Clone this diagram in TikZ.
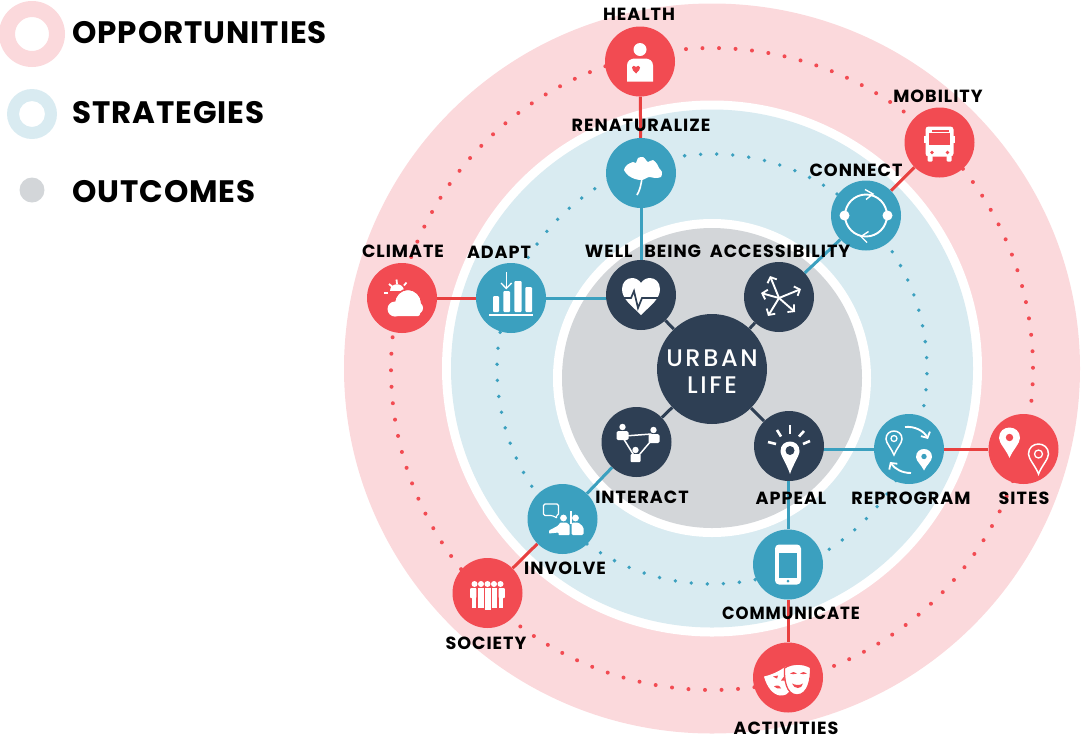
\documentclass[tikz,border=0pt]{standalone}
\usepackage{fontspec}
\setmainfont{Poppins}[LetterSpace=5.5]
\newfontfamily\legfont{Poppins}[LetterSpace=3]
\newfontfamily\midfont{Poppins Medium}[LetterSpace=11]
\usetikzlibrary{arrows.meta}
\pgfdeclarelayer{rings}
\pgfdeclarelayer{links}
\pgfsetlayers{rings,links,main}
\definecolor{rd}{HTML}{F24B52}
\definecolor{rdline}{HTML}{E8403F}
\definecolor{pk}{HTML}{FBD9DC}
\definecolor{lb}{HTML}{D9EBF1}
\definecolor{tl}{HTML}{3BA0BF}
\definecolor{dk}{HTML}{2E3F54}
\definecolor{gy}{HTML}{D3D6D9}
\newcommand{\pinshape}[5]{\path[#1] ({#2-#4},#3) .. controls ({#2-#4},{#3-1.33*#4}) and ({#2+#4},{#3-1.33*#4}) .. ({#2+#4},#3) .. controls ({#2+#4},{#3+.5*#4}) and ({#2+.3*#4},{#3+.6*#5}) .. (#2,{#3+#5}) .. controls ({#2-.3*#4},{#3+.6*#5}) and ({#2-#4},{#3+.5*#4}) .. cycle;}
\tikzset{
  x=1pt,y=-1pt,
  hub/.style={circle,inner sep=0pt,minimum size=70pt,draw=none},
  redhub/.style={hub,fill=rd},
  tealhub/.style={hub,fill=tl},
  darkhub/.style={hub,fill=dk},
  lab/.style={text=black,inner sep=0pt,yshift=-1pt,font=\fontsize{17.6}{19}\selectfont\bfseries},
  leg/.style={text=black,inner sep=0pt,anchor=west,font=\legfont\fontsize{31}{33}\selectfont\bfseries},
  redlink/.style={draw=rdline,line width=3pt},
  teallink/.style={draw=tl,line width=3pt},
  darklink/.style={draw=dk,line width=3pt},
  wl/.style={draw=white,line width=1.9pt},
  barb/.style={-{Straight Barb[length=4.5pt,width=10pt,line width=1.8pt]}},
}
\begin{document}
\begin{tikzpicture}
\useasboundingbox (0,0) rectangle (1082,740);
\begin{pgfonlayer}{rings}
\fill[pk] (712,368.5) ellipse [x radius=368pt,y radius=365pt];
\fill[white] (712,368.5) ellipse [x radius=270pt,y radius=268pt];
\fill[lb] (712,368.5) ellipse [x radius=261pt,y radius=259pt];
\fill[white] (712,378) circle [radius=159pt];
\fill[gy] (712,378) circle [radius=150pt];
\foreach \i in {0,...,121} \fill[rd] ({712+321*cos(88.75+\i/122*360)},{369-321*sin(88.75+\i/122*360)}) circle [radius=2pt];
\foreach \i in {0,...,83} \fill[tl] ({712+215*cos(88.75+\i/84*360)},{369-215*sin(88.75+\i/84*360)}) circle [radius=1.9pt];
\fill[pk,even odd rule] (32,34) circle [radius=33pt] (32,34) circle [radius=17pt];
\fill[lb,even odd rule] (32,114) circle [radius=25pt] (32,114) circle [radius=13pt];
\fill[gy] (32,190) circle [radius=12.5pt];
\end{pgfonlayer}
\node[leg] (lopp) at (72,33) {OPPORTUNITIES};
\node[leg] (lstr) at (72,113) {STRATEGIES};
\node[leg] (lout) at (72,192) {OUTCOMES};
% nodes
\node[darkhub,minimum size=110pt] (urban) at (712,369) {};
\node[darkhub] (well) at (641,295) {};
\node[darkhub] (acc) at (779,297) {};
\node[darkhub] (app) at (789,446) {};
\node[darkhub] (inter) at (636.5,442) {};
\node[tealhub] (ren) at (641,173) {};
\node[tealhub] (con) at (866,215.5) {};
\node[tealhub] (ada) at (511,298) {};
\node[tealhub] (rep) at (909,449) {};
\node[tealhub] (inv) at (562.5,519) {};
\node[tealhub] (com) at (788,564.5) {};
\node[redhub] (hea) at (640,61.5) {};
\node[redhub] (mob) at (939.5,142.5) {};
\node[redhub] (cli) at (402,298) {};
\node[redhub] (sit) at (1023.5,449) {};
\node[redhub] (soc) at (487.5,593) {};
\node[redhub] (act) at (788,677.5) {};
\begin{pgfonlayer}{links}
\draw[redlink] (hea) -- (ren);
\draw[teallink] (ren) -- (well);
\draw[darklink] (well) -- (urban);
\draw[darklink] (acc) -- (urban);
\draw[teallink] (acc) -- (con);
\draw[redlink] (con) -- (mob);
\draw[darklink] (app) -- (urban);
\draw[teallink] (rep) -- (rep -| app);
\draw[redlink] (rep) -- (sit);
\draw[teallink] (com) -- (com |- app);
\draw[redlink] (com) -- (act);
\draw[darklink] (inter) -- (urban);
\draw[teallink] (inter) -- (inv);
\draw[redlink] (inv) -- (soc);
\draw[teallink] (ada) -- (ada -| well);
\draw[redlink] (ada) -- (cli);
\end{pgfonlayer}
% HEALTH
\begin{scope}[shift={(hea)}]
\fill[white] (0,-12) circle [radius=6.5pt];
\fill[white] (-13,20) -- (-13,4) .. controls (-13,-1) and (-9,-3) .. (-5,-3) -- (5,-3) .. controls (9,-3) and (13,-1) .. (13,4) -- (13,20) -- cycle;
\fill[rd] (-4,12) .. controls (-7,9) and (-8,8) .. (-8,6) .. controls (-8,4) and (-5,3.5) .. (-4,5.5) .. controls (-3,3.5) and (0,4) .. (0,6) .. controls (0,8) and (-1,9) .. (-4,12) -- cycle;
\end{scope}
% RENATURALIZE leaf
\begin{scope}[shift={(ren)}]
\fill[white] plot[smooth cycle,tension=.45] coordinates {(1,7) (-6,6) (-12,3) (-17,-3) (-14,-8) (-8,-11) (-5,-10) (-3,-15) (2,-16) (5,-13) (7,-11) (12,-13) (16,-9) (18,-5) (21,-1) (20,4) (14,5) (8,4)};
\draw[white,line width=1.6pt] (1,5) .. controls (0,12) and (-1,17) .. (-4,22);
\end{scope}
% ADAPT
\begin{scope}[shift={(ada)}]
\fill[white,rounded corners=1pt] (-18,-2) rectangle (-12,14);
\fill[white,rounded corners=1pt] (-7.7,-7) rectangle (-1,14);
\fill[white,rounded corners=1pt] (3.3,-17) rectangle (10.7,14);
\fill[white,rounded corners=1pt] (14.3,-11) rectangle (21,14);
\fill[white] (-21.7,16) rectangle (21.7,18.2);
\draw[wl,line width=1.3pt] (-4.7,-26) -- (-4.7,-9.5);
\draw[wl,line width=1.3pt] (-10,-15) -- (-4.7,-9.5) -- (0.6,-15);
\end{scope}
% CLIMATE
\begin{scope}[shift={(cli)}]
\fill[white] (-12,-7) .. controls (-12,-16) and (2,-16) .. (2,-7) -- cycle;
\draw[rd,line width=1.6pt,fill=white] (6,5) circle [radius=13.5pt];
\fill[white] (-7,11) circle [radius=7.5pt];
\fill[white] (15,10) circle [radius=6pt];
\fill[white] (6,5) circle [radius=12.5pt];
\fill[white,rounded corners=2pt] (-10,8) rectangle (18,18);
\draw[wl,line width=1.8pt] (-5.5,-18.5) -- (-5,-14);
\draw[wl,line width=1.8pt] (4.5,-15.5) -- (2,-12.5);
\draw[wl,line width=1.8pt] (-13,-14) -- (-10,-11.5);
\draw[wl,line width=1.8pt] (-18,-5) -- (-14,-5);
\end{scope}
% WELL BEING
\begin{scope}[shift={(well)}]
\fill[white] (0,20) .. controls (-10,10) and (-19,4) .. (-19,-6) .. controls (-19,-13) and (-14,-17) .. (-9,-17) .. controls (-5,-17) and (-2,-15) .. (0,-12) .. controls (2,-15) and (5,-17) .. (9,-17) .. controls (14,-17) and (19,-13) .. (19,-6) .. controls (19,4) and (10,10) .. (0,20) -- cycle;
\draw[dk,line width=1.7pt] (-20,3) -- (-10,3) -- (-7,-4) -- (-3,13) -- (1,3) -- (20,3);
\end{scope}
% ACCESSIBILITY
\begin{scope}[shift={(acc)}]
\draw[wl,barb] (0,1) -- (-9,-21);
\draw[wl,barb] (0,1) -- (22,-8);
\draw[wl,barb] (0,1) -- (16,15);
\draw[wl,barb] (0,1) -- (-11,19);
\draw[wl,barb] (0,1) -- (-18,-4);
\end{scope}
% CONNECT
\begin{scope}[shift={(con)}]
\draw[wl,line width=1.9pt] (0,0) circle [radius=21pt];
\fill[white] (-21.5,0) circle [radius=5pt];
\fill[white] (21.5,0) circle [radius=5pt];
\draw[wl,line width=1.4pt] (-1,-26) -- (7,-21.5) -- (0,-16);
\draw[wl,line width=1.4pt] (2.5,16) -- (-5,21) -- (1,27);
\end{scope}
% MOBILITY
\begin{scope}[shift={(mob)}]
\fill[white,rounded corners=3pt] (-14,-16) rectangle (14,14);
\fill[white] (-15.5,-7) rectangle (15.5,0);
\fill[white,rounded corners=1pt] (-12,13) rectangle (-7,19);
\fill[white,rounded corners=1pt] (7,13) rectangle (12,19);
\fill[rd] (-10.5,-10) rectangle (10.5,2);
\fill[rd] (-7.5,-13) rectangle (9,-11);
\fill[rd] (-7.5,10) circle [radius=1.8pt];
\fill[rd] (8,10) circle [radius=1.8pt];
\end{scope}
% APPEAL
\begin{scope}[shift={(app)}]
\draw[wl,line width=2.6pt] (1,-21) -- (1,-12);
\draw[wl,line width=2.6pt] (-12,-16) -- (-8,-9.5);
\draw[wl,line width=2.6pt] (15,-15) -- (10,-9.5);
\draw[wl,line width=2.6pt] (-21,-4) -- (-13,-2);
\draw[wl,line width=2.6pt] (21,-5) -- (14,-2);
\pinshape{fill=white}{1}{5}{9.5}{23}
\fill[dk] (1,4.5) circle [radius=4.5pt];
\end{scope}
% REPROGRAM
\begin{scope}[shift={(rep)}]
\pinshape{draw=white,line width=1.5pt}{-15}{-10}{8}{16}
\draw[wl,line width=1.3pt] (-15,-10.5) circle [radius=3pt];
\pinshape{fill=white}{15}{8}{8}{13.5}
\fill[tl] (15,7.5) circle [radius=2.7pt];
\draw[wl,barb] (-4,-22) .. controls (6,-23) and (15,-18) .. (19,-10);
\draw[wl,barb] (2,24) .. controls (-7,24) and (-14,20) .. (-19,13);
\end{scope}
% SITES
\begin{scope}[shift={(sit)}]
\pinshape{fill=white}{-14}{-11}{10.5}{20}
\fill[rd] (-14,-11.5) circle [radius=3.7pt];
\pinshape{draw=white,line width=1.5pt}{15}{5}{10}{20}
\draw[wl,line width=1.3pt] (15,5) circle [radius=4pt];
\end{scope}
% COMMUNICATE
\begin{scope}[shift={(com)}]
\fill[white,rounded corners=4pt] (-13,-20) rectangle (13,20);
\fill[tl] (-9,-12) rectangle (9,13);
\fill[tl] (0,16.5) circle [radius=1.5pt];
\end{scope}
% ACTIVITIES
\begin{scope}[shift={(act)}]
\fill[white] (-24,-1) .. controls (-15,-3) and (-8,-7) .. (-2,-11) -- (2,12) .. controls (0,17) and (-3,18) .. (-8,18) .. controls (-15,17) and (-21,10) .. (-24,-1) -- cycle;
\fill[rd] (-15,-1) -- (-10,-2) -- (-11,1) -- cycle;
\fill[rd] (-7,3) -- (-4,-1) -- (-3,3) -- cycle;
\fill[rd] (-14,9) .. controls (-11,7) and (-8,8) .. (-7,11) .. controls (-10,11) and (-12,11) .. (-14,9) -- cycle;
\draw[rd,line width=1.3pt,fill=white] (-3.5,-9.5) .. controls (4,-14.5) and (15,-14.5) .. (22.5,-10) .. controls (23,2) and (20,17) .. (9,17.5) .. controls (-2,17) and (-4,2) .. (-3.5,-9.5) -- cycle;
\fill[rd] (2,-4) .. controls (4,-6) and (7,-6) .. (9,-4) .. controls (6,-3) and (4,-3) .. (2,-4) -- cycle;
\fill[rd] (12,-4) .. controls (14,-6) and (17,-6) .. (19,-4) .. controls (16,-3) and (14,-3) .. (12,-4) -- cycle;
\fill[rd] (4,6) .. controls (8,8) and (12,8) .. (15,6) .. controls (14,12) and (6,12) .. (4,6) -- cycle;
\end{scope}
% INVOLVE
\begin{scope}[shift={(inv)}]
\draw[wl,line width=1.1pt,rounded corners=1.5pt] (-19,-15) -- (-4,-15) -- (-4,-3.5) -- (-7,-3.5) -- (-5,-0.5) -- (-10,-3.5) -- (-19,-3.5) -- cycle;
\fill[white] (1,-1) circle [radius=3.4pt];
\fill[white] (13,-1) circle [radius=3.4pt];
\fill[white,rounded corners=.7pt] (-13.5,11.5) -- (-5,7) -- (-2,3.5) -- (4,3.5) -- (7,6) -- (7,16) -- (-4,16) -- (-4,13.5) -- (-13.5,14.5) -- cycle;
\fill[white,rounded corners=1.5pt] (9,3.5) -- (16,3.5) -- (21,8) -- (21,16) -- (9,16) -- cycle;
\draw[wl,line width=2pt] (8,-8) -- (8,5);
\end{scope}
% SOCIETY
\begin{scope}[shift={(soc)}]
\foreach \p in {-13,-6.5,0,6.5,13} \fill[white] (\p,-9) circle [radius=3pt];
\fill[white,rounded corners=.8pt] (-17.3,-5) rectangle (-11.2,5);
\fill[white] (-15.7,-5) rectangle (-11.2,15);
\fill[white,rounded corners=.8pt] (11.2,-5) rectangle (17.3,5);
\fill[white] (11.2,-5) rectangle (15.7,15);
\fill[white] (-9.8,-5) rectangle (-4,15);
\fill[white] (4,-5) rectangle (9.8,15);
\fill[white] (-3,-5) rectangle (3,17);
\end{scope}
% INTERACT
\begin{scope}[shift={(inter)}]
\draw[wl,line width=1.5pt] (-12,-6) -- (15,-8);
\draw[wl,line width=1.5pt] (-14,-5) -- (-1,16);
\draw[wl,line width=1.5pt] (17,-4) -- (0,16);
\fill[white] (-14,-15) circle [radius=3.2pt];
\fill[white] (17,-12) circle [radius=3.2pt];
\fill[white] (-1,8) circle [radius=3.2pt];
\fill[white,rounded corners=1.5pt] (-20,-11) rectangle (-8,-2);
\fill[white,rounded corners=1.5pt] (12,-8) rectangle (23,1);
\fill[white,rounded corners=1pt] (-6,12) rectangle (4,20);
\end{scope}
% labels
\node[text=white,inner sep=0pt,align=center,font=\fontsize{24}{27}\selectfont\midfont] (urbantxt) at (712,372) {URBAN\\LIFE};
\node[lab] (l1) at (639,13) {HEALTH};
\node[lab] (l2) at (641,124) {RENATURALIZE};
\node[lab] (l3) at (643,250) {WELL\hspace{7pt} BEING};
\node[lab] (l4) at (780,250) {ACCESSIBILITY};
\node[lab] (l5) at (856,169) {CONNECT};
\node[lab] (l6) at (938,95) {MOBILITY};
\node[lab] (l7) at (403,250) {CLIMATE};
\node[lab] (l8) at (499,251) {ADAPT};
\node[lab] (l9) at (791,497) {APPEAL};
\node[lab] (l10) at (911,497) {REPROGRAM};
\node[lab] (l11) at (1024,497) {SITES};
\node[lab] (l12) at (642,496) {INTERACT};
\node[lab] (l13) at (565,567) {INVOLVE};
\node[lab] (l14) at (486,642) {SOCIETY};
\node[lab] (l15) at (791,612) {\scalebox{0.94}[1]{COMMUNICATE}};
\node[lab] (l16) at (786,727) {ACTIVITIES};
\end{tikzpicture}
\end{document}
